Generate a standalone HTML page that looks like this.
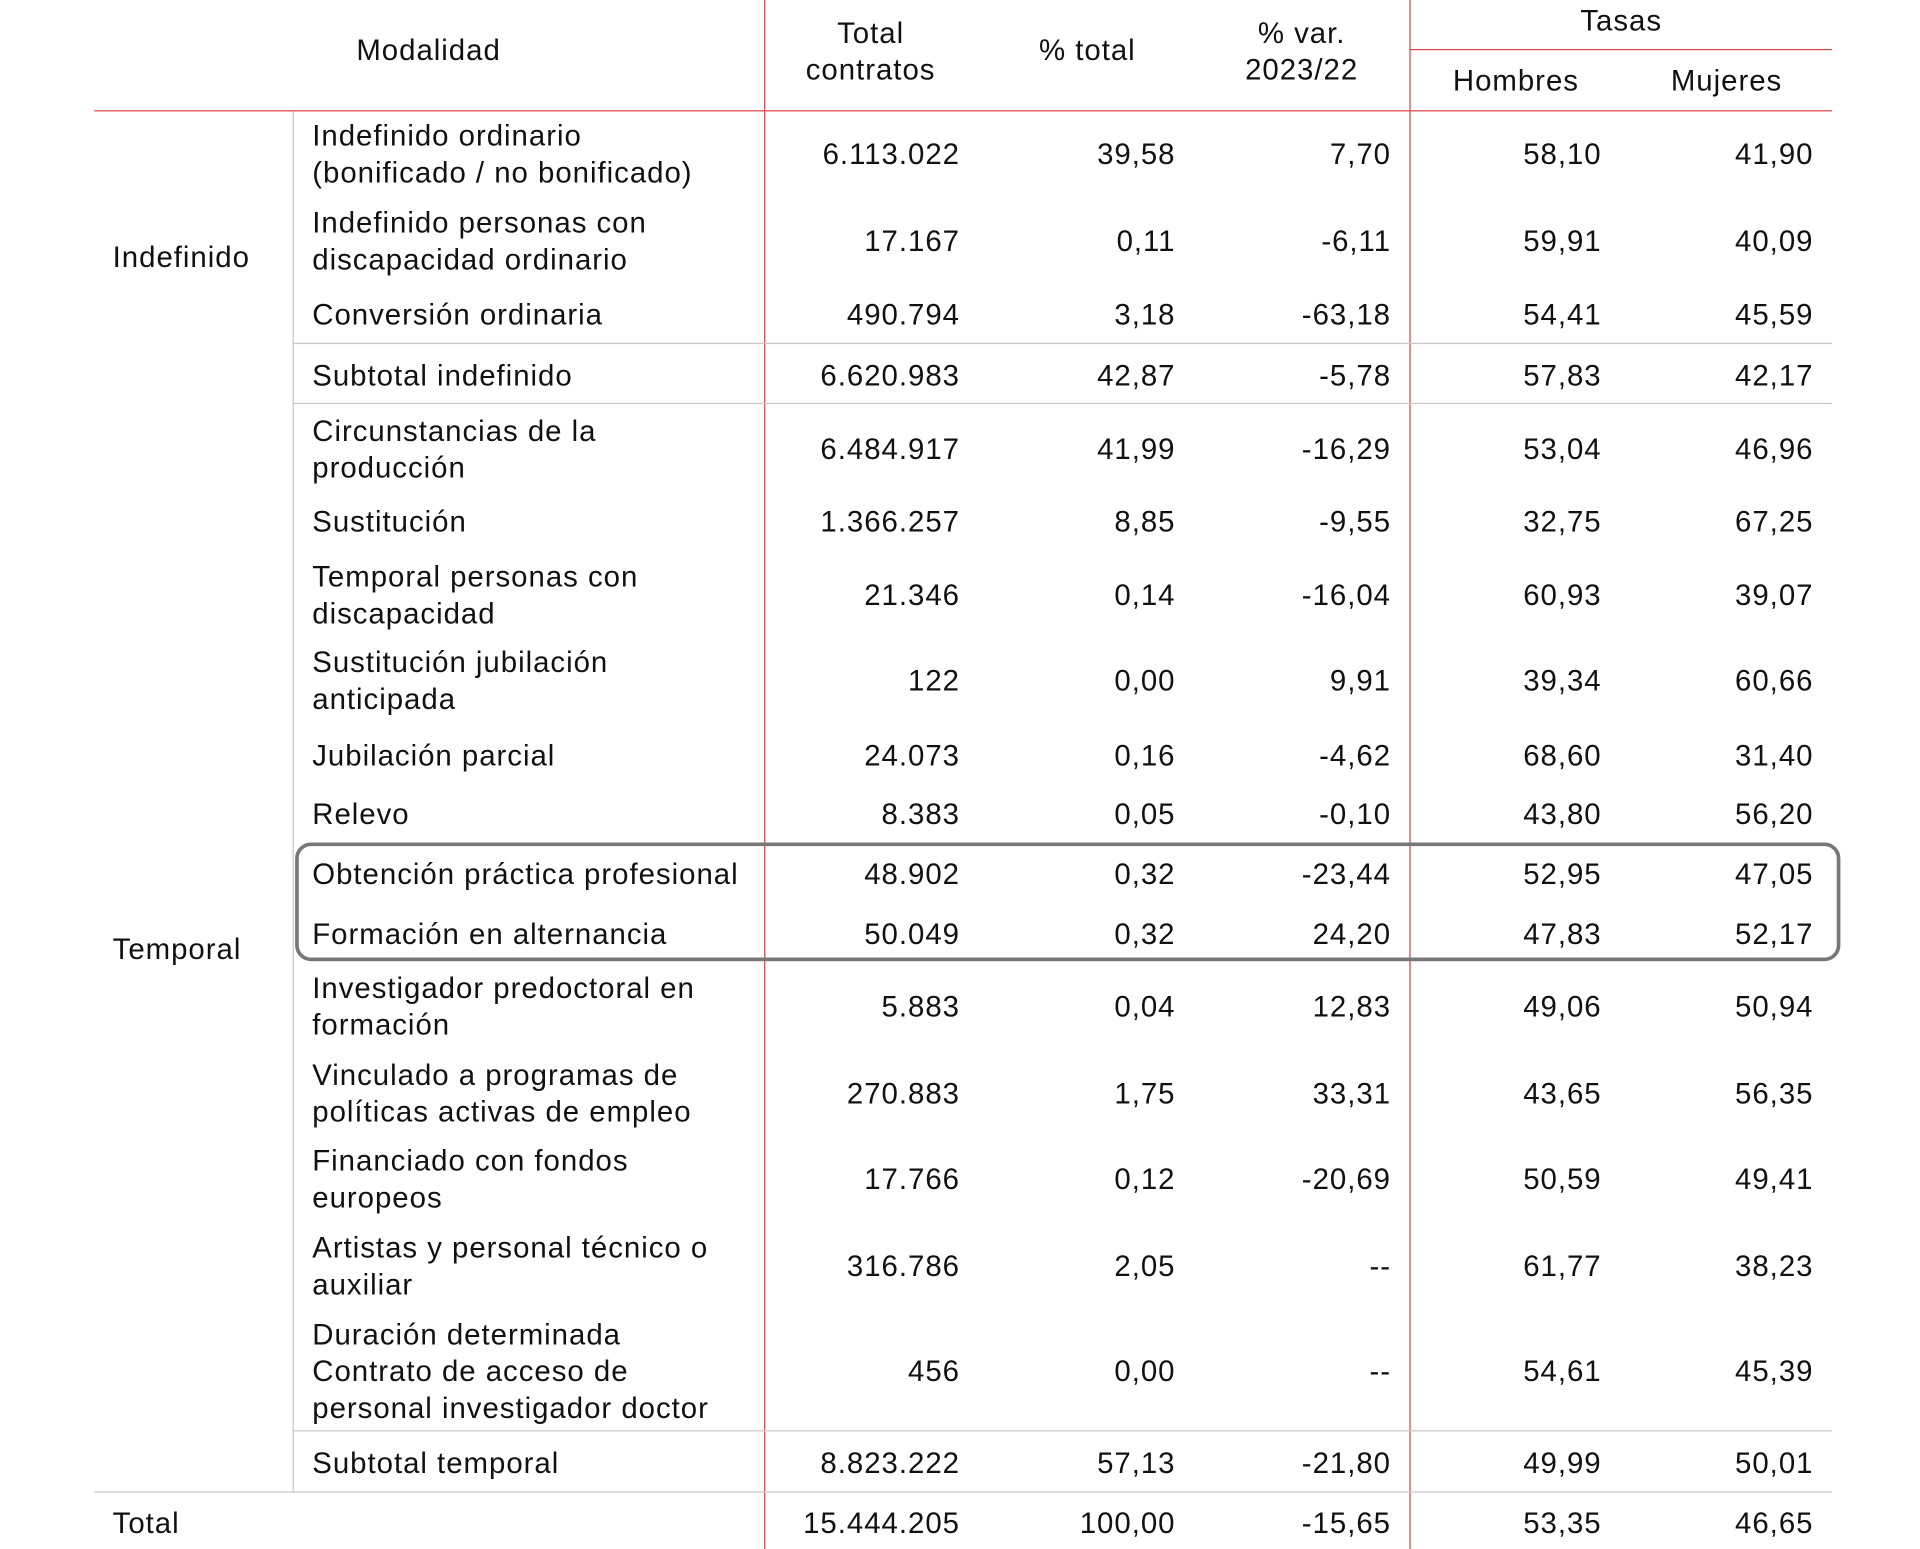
<!DOCTYPE html>
<html><head><meta charset="utf-8"><style>
html,body{margin:0;padding:0;background:#fff;}
body{width:1920px;height:1549px;overflow:hidden;position:relative;}
#c{position:absolute;left:0;top:0;width:1568px;height:1265px;transform:scale(1.22449);transform-origin:0 0;font-family:"Liberation Sans",Arial,sans-serif;font-size:24px;letter-spacing:0.8px;color:#111;}
.t{position:absolute;line-height:30px;white-space:nowrap;margin-top:1px;}
.r{text-align:right;}
.r{margin-right:-0.8px;}
.ce{text-align:center;}
.l{position:absolute;}
</style></head><body><div id="c">
<div class="l" style="left:624px;top:0;width:1px;height:1265px;background:#d9444a"></div>
<div class="l" style="left:1151px;top:0;width:1px;height:1265px;background:#d9444a"></div>
<div class="l" style="left:77px;top:90px;width:1419px;height:1px;background:#d9444a"></div>
<div class="l" style="left:1151px;top:40px;width:345px;height:1px;background:#d9444a"></div>
<div class="l" style="left:239px;top:91px;width:1px;height:1127px;background:#c8c8c8"></div>
<div class="l" style="left:239px;top:280px;width:1257px;height:1px;background:#c8c8c8"></div>
<div class="l" style="left:239px;top:329px;width:1257px;height:1px;background:#c8c8c8"></div>
<div class="l" style="left:239px;top:1168px;width:1257px;height:1px;background:#c8c8c8"></div>
<div class="l" style="left:77px;top:1218px;width:1419px;height:1px;background:#c8c8c8"></div>
<div class="l" style="left:241px;top:688px;width:1256px;height:91px;border:3px solid #777;border-radius:13px"></div>
<div class="t ce" style="left:250px;width:200px;top:26px">Modalidad</div>
<div class="t ce" style="left:611px;width:200px;top:12px">Total<br>contratos</div>
<div class="t ce" style="left:788px;width:200px;top:26px">% total</div>
<div class="t ce" style="left:963px;width:200px;top:12px">% var.<br>2023/22</div>
<div class="t ce" style="left:1224px;width:200px;top:2px">Tasas</div>
<div class="t ce" style="left:1138px;width:200px;top:51px">Hombres</div>
<div class="t ce" style="left:1310px;width:200px;top:51px">Mujeres</div>
<div class="t" style="left:92px;top:195px">Indefinido</div>
<div class="t" style="left:92px;top:760px">Temporal</div>
<div class="t" style="left:92px;top:1229px">Total</div>

<div class="t" style="left:255px;top:96px">Indefinido ordinario<br>(bonificado / no bonificado)</div>
<div class="t" style="left:255px;top:167px">Indefinido personas con<br>discapacidad ordinario</div>
<div class="t" style="left:255px;top:242px">Conversión ordinaria</div>
<div class="t" style="left:255px;top:292px">Subtotal indefinido</div>
<div class="t" style="left:255px;top:337px">Circunstancias de la<br>producción</div>
<div class="t" style="left:255px;top:411px">Sustitución</div>
<div class="t" style="left:255px;top:456px">Temporal personas con<br>discapacidad</div>
<div class="t" style="left:255px;top:526px">Sustitución jubilación<br>anticipada</div>
<div class="t" style="left:255px;top:602px">Jubilación parcial</div>
<div class="t" style="left:255px;top:650px">Relevo</div>
<div class="t" style="left:255px;top:699px">Obtención práctica profesional</div>
<div class="t" style="left:255px;top:748px">Formación en alternancia</div>
<div class="t" style="left:255px;top:792px">Investigador predoctoral en<br>formación</div>
<div class="t" style="left:255px;top:863px">Vinculado a programas de<br>políticas activas de empleo</div>
<div class="t" style="left:255px;top:933px">Financiado con fondos<br>europeos</div>
<div class="t" style="left:255px;top:1004px">Artistas y personal técnico o<br>auxiliar</div>
<div class="t" style="left:255px;top:1075px">Duración determinada<br>Contrato de acceso de<br>personal investigador doctor</div>
<div class="t" style="left:255px;top:1180px">Subtotal temporal</div>

<div id="nums"></div>
</div>
<script>
var rows=[
[126,"6.113.022","39,58","7,70","58,10","41,90"],
[197,"17.167","0,11","-6,11","59,91","40,09"],
[257,"490.794","3,18","-63,18","54,41","45,59"],
[307,"6.620.983","42,87","-5,78","57,83","42,17"],
[367,"6.484.917","41,99","-16,29","53,04","46,96"],
[426,"1.366.257","8,85","-9,55","32,75","67,25"],
[486,"21.346","0,14","-16,04","60,93","39,07"],
[556,"122","0,00","9,91","39,34","60,66"],
[617,"24.073","0,16","-4,62","68,60","31,40"],
[665,"8.383","0,05","-0,10","43,80","56,20"],
[714,"48.902","0,32","-23,44","52,95","47,05"],
[763,"50.049","0,32","24,20","47,83","52,17"],
[822,"5.883","0,04","12,83","49,06","50,94"],
[893,"270.883","1,75","33,31","43,65","56,35"],
[963,"17.766","0,12","-20,69","50,59","49,41"],
[1034,"316.786","2,05","--","61,77","38,23"],
[1120,"456","0,00","--","54,61","45,39"],
[1195,"8.823.222","57,13","-21,80","49,99","50,01"],
[1244,"15.444.205","100,00","-15,65","53,35","46,65"]];
var rs=[784,960,1136,1308,1481],h="";
rows.forEach(function(r){for(var i=0;i<5;i++){h+='<div class="t r" style="left:'+(rs[i]-200)+'px;width:200px;top:'+(r[0]-15)+'px">'+r[i+1]+'</div>';}});
document.getElementById("nums").innerHTML=h;
</script>
</body></html>
